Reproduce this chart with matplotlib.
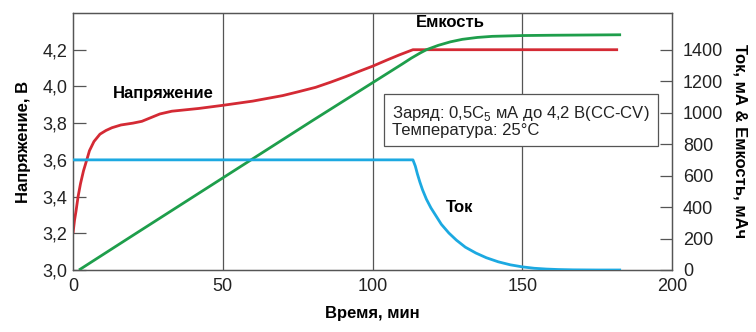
import numpy as np
import matplotlib
matplotlib.use('Agg')
import matplotlib.pyplot as plt

plt.rcParams['font.family'] = ['Liberation Sans', 'DejaVu Sans']
plt.rcParams['mathtext.fontset'] = 'custom'
plt.rcParams['mathtext.rm'] = 'Liberation Sans'

# Напряжение (В)
t_v = [0, 0.5, 1, 1.7, 2.5, 3.5, 4.6, 5.5, 7, 9, 11, 13, 16, 20, 23, 26, 29, 33,
       42, 50, 60, 65, 70, 75, 81, 86, 91, 96, 100, 105, 109, 113.5, 150, 182]
volt = [3.2, 3.27, 3.32, 3.40, 3.47, 3.54, 3.60, 3.65, 3.70, 3.74, 3.76, 3.775, 3.79, 3.80,
        3.81, 3.83, 3.85, 3.865, 3.88, 3.897, 3.92, 3.935, 3.95, 3.97, 3.995, 4.023,
        4.053, 4.085, 4.11, 4.145, 4.172, 4.2, 4.2, 4.2]

# Ток (мА)
t_i = [0, 113.5, 114.3, 115, 115.8, 116.7, 118, 119.5, 121, 123, 125.5, 128, 131, 134.5,
       138, 142, 146, 150, 154, 158, 162, 167, 175, 183]
cur = [700, 700, 660, 610, 560, 510, 450, 395, 350, 290, 235, 190, 145, 108, 78, 52, 33,
       20, 11, 6, 3, 1, 0, 0]

# Емкость (мАч)
t_c = [2, 20, 50, 80, 100, 110, 113, 116, 118, 122, 126, 130, 135, 140, 150, 160, 183]
cap = [0, 220, 585, 950, 1190, 1310, 1347, 1380, 1400, 1428, 1450, 1466, 1478, 1485,
       1490, 1492, 1495]

v_ticks = [3.0, 3.2, 3.4, 3.6, 3.8, 4.0, 4.2]
ma_ticks = [0, 200, 400, 600, 800, 1000, 1200, 1400]
x_ticks = [0, 50, 100, 150, 200]

red = '#d42a34'
green = '#1e9e4b'
blue = '#1ca9e1'
gray = '#555555'

fig = plt.figure(figsize=(7.56, 3.32), dpi=100)
ax = fig.add_axes([73 / 756, 62 / 332, 599 / 756, 257 / 332])
ax2 = ax.twinx()

ax.set_xlim(0, 200)
ax.set_ylim(3.0, 4.4)
ax2.set_ylim(0, 1400 * 1.4 / 1.2)

for x in x_ticks[1:-1]:
    ax.axvline(x, color=gray, lw=0.9, zorder=0)

ax.plot(t_v, volt, color=red, lw=2.0, zorder=3, solid_capstyle='butt')
ax2.plot(t_c, cap, color=green, lw=2.0, zorder=3, solid_capstyle='butt')
ax2.plot(t_i, cur, color=blue, lw=2.0, zorder=3, solid_capstyle='butt')

ax.set_xticks(x_ticks)
ax.set_yticks(v_ticks)
ax.set_yticklabels([f'{v:.1f}'.replace('.', ',') for v in v_ticks])
ax2.set_yticks(ma_ticks)

ax.tick_params(axis='x', length=0, labelsize=13, pad=6, colors='#222222')
ax.tick_params(axis='y', direction='in', length=9, width=0.9, labelsize=13, pad=4,
               color=gray, labelcolor='#222222')
ax2.tick_params(axis='y', direction='in', length=9, width=0.9, labelsize=13, pad=8,
                color=gray, labelcolor='#222222')

for a in (ax, ax2):
    for s in a.spines.values():
        s.set_color(gray)
        s.set_linewidth(0.9)

ax.set_xlabel('Время, мин', fontsize=12, fontweight='bold', labelpad=8)
ax.set_ylabel('Напряжение, В', fontsize=12, fontweight='bold', labelpad=8)
ax2.set_ylabel('Ток, мА & Емкость, мАч', fontsize=12, fontweight='bold',
               rotation=270, labelpad=17)

ax.text(30, 3.96, 'Напряжение', fontsize=12, fontweight='bold', ha='center', va='center')
ax.text(126, 4.35, 'Емкость', fontsize=12, fontweight='bold', ha='center', va='center')
ax.text(129, 3.34, 'Ток', fontsize=12, fontweight='bold', ha='center', va='center')

ax.text(106.5, 3.905, 'Заряд: 0,5C$_{\\mathrm{5}}$ мА до 4,2 В(CC-CV)\nТемпература: 25°C',
        fontsize=12, ha='left', va='top', linespacing=1.0, color='#222222', zorder=5,
        bbox=dict(boxstyle='square,pad=0.5', fc='white', ec=gray, lw=0.9))

fig.savefig('out.png', dpi=100)
